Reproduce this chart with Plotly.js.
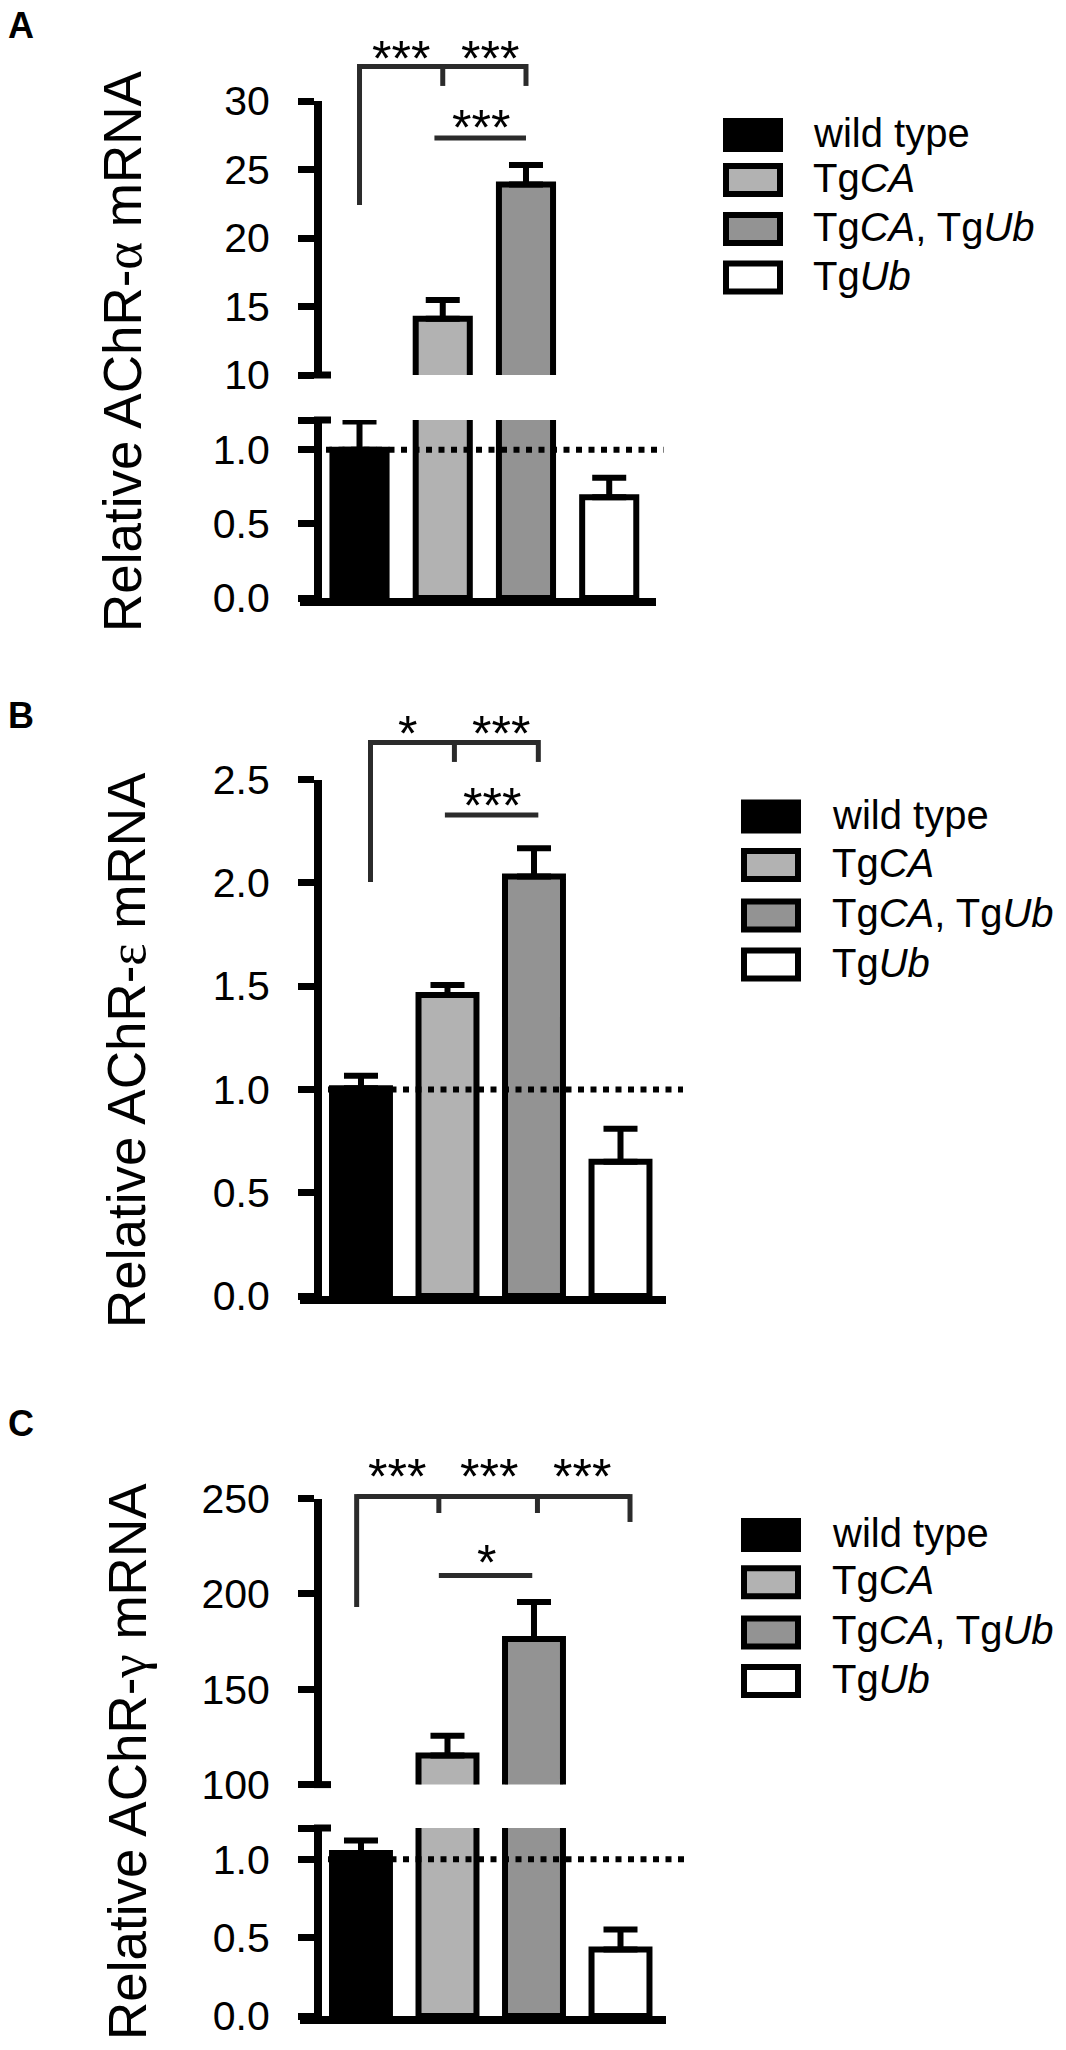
<!DOCTYPE html>
<html><head><meta charset="utf-8">
<script src="https://cdn.plot.ly/plotly-3.0.1.min.js"></script>
<style>body{margin:0;background:#fff}#chart{width:1066px;height:2050px}</style>
</head><body><div id="chart"></div>
<script>
// ---- data ----
const groups = ['wild type', 'TgCA', 'TgCA, TgUb', 'TgUb'];
const groupLabels = ['wild type', 'Tg<i>CA</i>', 'Tg<i>CA</i>, Tg<i>Ub</i>', 'Tg<i>Ub</i>'];
const alphaMean = [1.0, 14.1, 23.9, 0.68];
const alphaSem = [0.19, 1.37, 1.43, 0.13];
const epsilonMean = [1.006, 1.457, 2.03, 0.65];
const epsilonSem = [0.06, 0.048, 0.137, 0.16];
const gammaMean = [1.04, 115.2, 176.4, 0.425];
const gammaSem = [0.08, 10.4, 19.4, 0.127];
const alphaVsWT = ['***', '***'];
const alphaCAvsCAUb = '***';
const epsilonVsWT = ['*', '***'];
const epsilonCAvsCAUb = '***';
const gammaVsWT = ['***', '***', '***'];
const gammaCAvsCAUb = '*';
const fills = ['#000000', '#b2b2b2', '#939393', '#ffffff'];

// ---- layout geometry ----
const W = 1066, H = 2050;
const FONT = '"Liberation Sans", Arial, Helvetica, sans-serif';
const greek = g => '<span style="font-family:\'Liberation Serif\', serif">' + g + '</span>';

const panels = [
  {letter:'A', letterY:25, titleY:351, titleX:122, title:'Relative AChR-' + greek('α') + ' mRNA',
   mean:alphaMean, sem:alphaSem, sigWT:alphaVsWT, sigCA:alphaCAvsCAUb,
   xDom:[300,656], xRange:[-0.715,3.562], barWidth:0.65, refX:[326,664],
   segs:[{dom:[420,598], range:[0,1.2], tickvals:[0,0.5,1,1.2], ticktext:['0.0','0.5','1.0','']},
         {dom:[101,375], range:[10,30], tickvals:[10,15,20,25,30], ticktext:['10','15','20','25','30']}],
   br:{level:32.52, legs:[[0,22.4],[1,31.1],[2,31.1]], labX:[0.5,1.57], labY:33.9,
       l2:27.3, l2x:[0.9,2.0], lab2X:1.46, lab2Y:28.8},
   leg:{x:723, text:811, rows:[135,180,229,277.5]}},
  {letter:'B', letterY:715, titleY:1050, titleX:126, title:'Relative AChR-' + greek('ε') + ' mRNA',
   mean:epsilonMean, sem:epsilonSem, sigWT:epsilonVsWT, sigCA:epsilonCAvsCAUb,
   xDom:[300,666], xRange:[-0.705,3.526], barWidth:0.67, refX:[328,683],
   segs:[{dom:[779.5,1296], range:[0,2.5], tickvals:[0,0.5,1,1.5,2,2.5], ticktext:['0.0','0.5','1.0','1.5','2.0','2.5']}],
   br:{level:2.679, legs:[[0.11,2.004],[1.08,2.585],[2.05,2.585]], labX:[0.54,1.62], labY:2.773,
       l2:2.328, l2x:[0.97,2.05], lab2X:1.51, lab2Y:2.425},
   leg:{x:741, text:830, rows:[816.5,865,915.5,964.5]}},
  {letter:'C', letterY:1423, titleY:1762, titleX:127, title:'Relative AChR-' + greek('γ') + ' mRNA',
   mean:gammaMean, sem:gammaSem, sigWT:gammaVsWT, sigCA:gammaCAvsCAUb,
   xDom:[300,666], xRange:[-0.705,3.526], barWidth:0.67, refX:[328,687],
   segs:[{dom:[1828,2016], range:[0,1.2], tickvals:[0,0.5,1,1.2], ticktext:['0.0','0.5','1.0','']},
         {dom:[1498.5,1784.6], range:[100,250], tickvals:[100,150,200,250], ticktext:['100','150','200','250']}],
   br:{level:251.0, legs:[[-0.05,193.1],[0.90,242.4],[2.04,242.4],[3.11,237.7]], labX:[0.42,1.48,2.55], labY:267.3,
       l2:209.6, l2x:[0.9,1.98], lab2X:1.45, lab2Y:222},
   leg:{x:741, text:830, rows:[1535,1582.3,1632.4,1681]}}
];

const traces = [];
const layout = {
  width: W, height: H, margin:{l:0,r:0,t:0,b:0},
  paper_bgcolor:'#fff', plot_bgcolor:'rgba(0,0,0,0)', showlegend:false,
  font:{family:FONT, color:'#000'},
  shapes:[], annotations:[]
};

let yCount = 0;
const px2p = py => 1 - py / H;

panels.forEach((p, pi) => {
  const xid = pi === 0 ? 'x' : 'x' + (pi + 1);
  const xName = pi === 0 ? 'xaxis' : 'xaxis' + (pi + 1);
  const segIds = [];
  p.segs.forEach((s, si) => {
    yCount++;
    const yid = yCount === 1 ? 'y' : 'y' + yCount;
    const yName = yCount === 1 ? 'yaxis' : 'yaxis' + yCount;
    segIds.push(yid);
    layout[yName] = {
      domain:[px2p(s.dom[1]), px2p(s.dom[0])], range:s.range, anchor:'free', position:318 / W,
      tickmode:'array', tickvals:s.tickvals, ticktext:s.ticktext,
      showline:true, linewidth:8, linecolor:'#000', ticks:'outside', ticklen:16, tickwidth:7, tickcolor:'#000',
      tickfont:{family:FONT, size:41, color:'#000'}, ticklabelstandoff:20,
      showgrid:false, zeroline:false, fixedrange:true
    };
    traces.push({
      type:'bar', x:groups, y:p.mean, xaxis:xid, yaxis:yid, width:p.barWidth,
      marker:{color:fills, line:{color:'#000', width:6}},
      error_y:{type:'data', symmetric:false, array:p.sem, arrayminus:p.sem.map(() => 0),
               color:'#000', thickness:6, width:17},
      hoverinfo:'skip', cliponaxis:true
    });
  });
  layout[xName] = {
    domain:[p.xDom[0] / W, p.xDom[1] / W], range:p.xRange, type:'category', anchor:segIds[0],
    showline:true, linewidth:8, linecolor:'#000', showticklabels:false, ticks:'',
    showgrid:false, zeroline:false, fixedrange:true
  };

  // axis-break marks (ticks crossing the axis at both ends of the gap)
  if (p.segs.length > 1) {
    [p.segs[0].dom[0], p.segs[1].dom[1]].forEach(py => {
      layout.shapes.push({type:'line', xref:'paper', yref:'paper', x0:314 / W, x1:331 / W,
        y0:px2p(py), y1:px2p(py), line:{color:'#000', width:7}});
    });
  }

  // reference dotted line at 1.0
  layout.shapes.push({type:'line', xref:'paper', yref:segIds[0], x0:p.refX[0] / W, x1:p.refX[1] / W,
    y0:1, y1:1, line:{color:'#000', width:6, dash:'6px,6.5px'}, layer:'above'});

  // bracket coordinates in the top segment's units
  const top = p.segs[p.segs.length - 1];
  const vPx = v => top.dom[1] - (v - top.range[0]) / (top.range[1] - top.range[0]) * (top.dom[1] - top.dom[0]);
  const bCol = '#2b2b2b', bW = 5;
  const b = p.br;
  const lvl = vPx(b.level);
  const legs = b.legs;
  layout.shapes.push({type:'line', xref:xid, yref:'paper', x0:legs[0][0], x1:legs[legs.length - 1][0],
    y0:px2p(lvl), y1:px2p(lvl), line:{color:bCol, width:bW}});
  legs.forEach(l => {
    layout.shapes.push({type:'line', xref:xid, yref:'paper', x0:l[0], x1:l[0],
      y0:px2p(lvl - bW / 2), y1:px2p(vPx(l[1])), line:{color:bCol, width:bW}});
  });
  p.sigWT.forEach((t, i) => {
    layout.annotations.push({text:t, xref:xid, yref:'paper', x:b.labX[i], y:px2p(vPx(b.labY) + 11),
      xanchor:'center', yanchor:'middle', showarrow:false, font:{family:FONT, size:50, color:'#000'}});
  });
  const l2 = vPx(b.l2);
  layout.shapes.push({type:'line', xref:xid, yref:'paper', x0:b.l2x[0], x1:b.l2x[1],
    y0:px2p(l2), y1:px2p(l2), line:{color:bCol, width:bW}});
  layout.annotations.push({text:p.sigCA, xref:xid, yref:'paper', x:b.lab2X, y:px2p(vPx(b.lab2Y) + 11),
    xanchor:'center', yanchor:'middle', showarrow:false, font:{family:FONT, size:50, color:'#000'}});

  // panel letter and y title
  layout.annotations.push({text:'<b>' + p.letter + '</b>', xref:'paper', yref:'paper', x:6 / W, y:px2p(p.letterY),
    xanchor:'left', yanchor:'middle', showarrow:false, font:{family:FONT, size:36, color:'#000'}});
  layout.annotations.push({text:p.title, xref:'paper', yref:'paper', x:p.titleX / W, y:px2p(p.titleY),
    xanchor:'center', yanchor:'middle', textangle:-90, showarrow:false, font:{family:FONT, size:53, color:'#000'}});

  // legend
  groupLabels.forEach((g, i) => {
    const cy = p.leg.rows[i];
    layout.shapes.push({type:'rect', xref:'paper', yref:'paper', x0:(p.leg.x + 3) / W, x1:(p.leg.x + 57) / W,
      y0:px2p(cy + 14), y1:px2p(cy - 14), fillcolor:fills[i], line:{color:'#000', width:6}});
    layout.annotations.push({text:g, xref:'paper', yref:'paper', x:p.leg.text / W, y:px2p(cy - 2),
      xanchor:'left', yanchor:'middle', showarrow:false, font:{family:FONT, size:40, color:'#000'}});
  });
});

Plotly.newPlot('chart', traces, layout, {staticPlot:true, displayModeBar:false});
</script>
</body></html>
